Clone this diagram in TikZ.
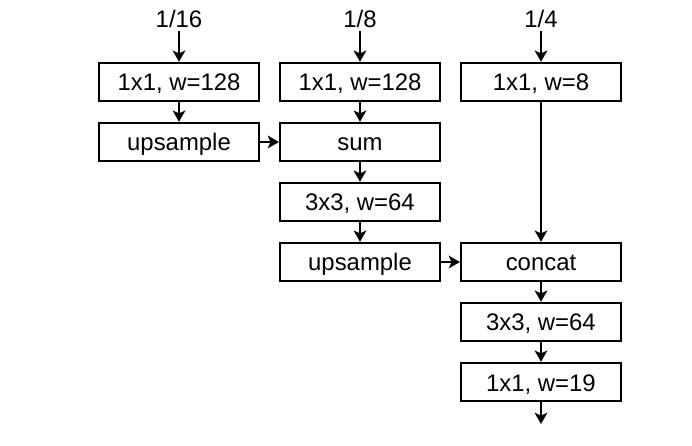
\documentclass[tikz,border=0pt]{standalone}
\usepackage{fontspec}
\setmainfont{Liberation Sans}
\usetikzlibrary{arrows.meta}

\begin{document}
\begin{tikzpicture}[x=0.025cm, y=-0.025cm,
		layer/.style={draw, line width=1.4pt, minimum width=4.0cm, minimum height=0.96cm, inner sep=0pt, text height=16pt, text depth=3.2pt, font=\fontsize{17}{20}\selectfont},
		rate/.style={inner sep=2pt, font=\fontsize{17}{20}\selectfont},
		flow/.style={-{Stealth[length=8pt, width=9pt, inset=2pt]}, line width=1.4pt}]
	\useasboundingbox (0,0) rectangle (692,446);
	% input rates
	\node[rate] (r16) at (179,19) {1/16};
	\node[rate] (r8) at (360,19) {1/8};
	\node[rate] (r4) at (541,19) {1/4};
	% 1/16 branch
	\node[layer] (a1) at (179,82) {1x1, w=128};
	\node[layer] (a2) at (179,142) {upsample};
	% 1/8 branch
	\node[layer] (b1) at (360,82) {1x1, w=128};
	\node[layer] (b2) at (360,142) {sum};
	\node[layer] (b3) at (360,202) {3x3, w=64};
	\node[layer] (b4) at (360,262) {upsample};
	% 1/4 branch and head
	\node[layer] (c1) at (541,82) {1x1, w=8};
	\node[layer] (c2) at (541,262) {concat};
	\node[layer] (c3) at (541,322) {3x3, w=64};
	\node[layer] (c4) at (541,382) {1x1, w=19};
	\coordinate (out) at (541,424);
	\draw[flow] (r16) -- (a1);
	\draw[flow] (r8) -- (b1);
	\draw[flow] (r4) -- (c1);
	\draw[flow] (a1) -- (a2);
	\draw[flow] (a2) -- (b2);
	\draw[flow] (b1) -- (b2);
	\draw[flow] (b2) -- (b3);
	\draw[flow] (b3) -- (b4);
	\draw[flow] (b4) -- (c2);
	\draw[flow] (c1) -- (c2);
	\draw[flow] (c2) -- (c3);
	\draw[flow] (c3) -- (c4);
	\draw[flow] (c4) -- (out);
\end{tikzpicture}
\end{document}
